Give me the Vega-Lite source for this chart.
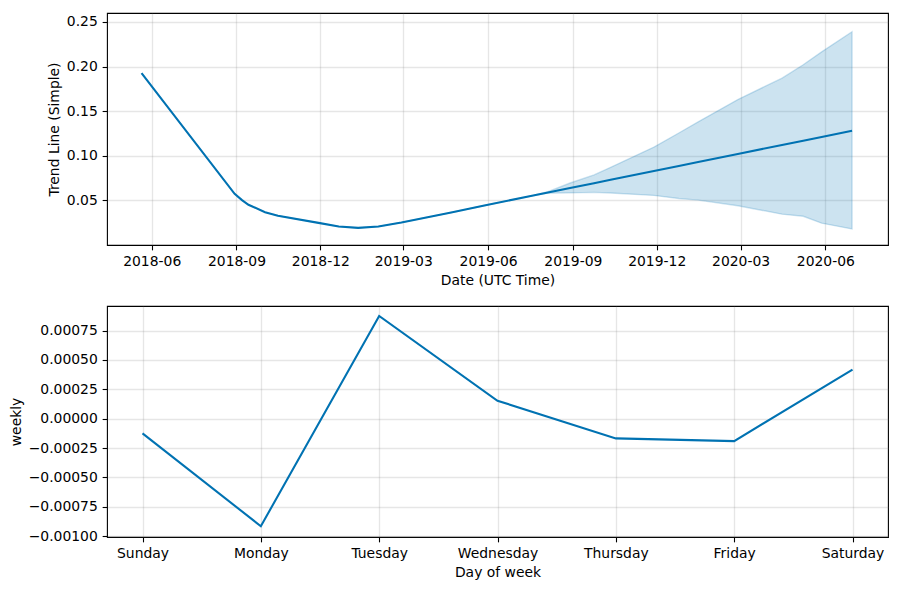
{
  "$schema": "https://vega.github.io/schema/vega-lite/v6.json",
  "padding": {"left": 8, "top": 12, "right": 8, "bottom": 5},
  "spacing": 17,
  "config": {
    "font": "DejaVu Sans",
    "view": {"stroke": "black", "strokeWidth": 1.1},
    "axis": {
      "domain": false, "grid": true, "gridColor": "#808080", "gridOpacity": 0.2, "gridWidth": 1.39,
      "tickColor": "black", "tickSize": 4.86, "tickWidth": 1.1,
      "labelFont": "DejaVu Sans", "labelFontSize": 13.9, "labelColor": "black", "labelPadding": 4.86,
      "labelOverlap": false, "labelFlush": false,
      "titleFont": "DejaVu Sans", "titleFontSize": 13.9, "titleFontWeight": "normal", "titleColor": "black", "titlePadding": 4.86
    }
  },
  "datasets": {
    "trend": [
      {"ds": "2018-05-21", "trend": 0.1926, "lower": 0.1926, "upper": 0.1926},
      {"ds": "2018-08-30", "trend": 0.0573, "lower": 0.0573, "upper": 0.0573},
      {"ds": "2018-09-07", "trend": 0.0503, "lower": 0.0503, "upper": 0.0503},
      {"ds": "2018-09-14", "trend": 0.0451, "lower": 0.0451, "upper": 0.0451},
      {"ds": "2018-10-02", "trend": 0.0368, "lower": 0.0368, "upper": 0.0368},
      {"ds": "2018-10-16", "trend": 0.0328, "lower": 0.0328, "upper": 0.0328},
      {"ds": "2018-11-29", "trend": 0.0248, "lower": 0.0248, "upper": 0.0248},
      {"ds": "2018-12-21", "trend": 0.0207, "lower": 0.0207, "upper": 0.0207},
      {"ds": "2019-01-11", "trend": 0.0192, "lower": 0.0192, "upper": 0.0192},
      {"ds": "2019-02-02", "trend": 0.0207, "lower": 0.0207, "upper": 0.0207},
      {"ds": "2019-02-27", "trend": 0.0252, "lower": 0.0252, "upper": 0.0252},
      {"ds": "2019-04-22", "trend": 0.0364, "lower": 0.0364, "upper": 0.0364},
      {"ds": "2019-05-28", "trend": 0.0443, "lower": 0.0443, "upper": 0.0443},
      {"ds": "2019-07-20", "trend": 0.0555, "lower": 0.0554, "upper": 0.0556},
      {"ds": "2019-08-05", "trend": 0.0588, "lower": 0.0581, "upper": 0.0598},
      {"ds": "2019-08-29", "trend": 0.0639, "lower": 0.0584, "upper": 0.0695},
      {"ds": "2019-09-24", "trend": 0.0693, "lower": 0.0590, "upper": 0.0785},
      {"ds": "2019-10-12", "trend": 0.0731, "lower": 0.0583, "upper": 0.0870},
      {"ds": "2019-11-28", "trend": 0.0829, "lower": 0.0556, "upper": 0.1098},
      {"ds": "2019-12-25", "trend": 0.0886, "lower": 0.0521, "upper": 0.1255},
      {"ds": "2020-01-15", "trend": 0.0930, "lower": 0.0503, "upper": 0.1380},
      {"ds": "2020-02-27", "trend": 0.1020, "lower": 0.0440, "upper": 0.1630},
      {"ds": "2020-04-15", "trend": 0.1121, "lower": 0.0346, "upper": 0.1870},
      {"ds": "2020-05-08", "trend": 0.1169, "lower": 0.0322, "upper": 0.2020},
      {"ds": "2020-05-28", "trend": 0.1211, "lower": 0.0245, "upper": 0.2165},
      {"ds": "2020-06-30", "trend": 0.1280, "lower": 0.0180, "upper": 0.2390}
    ],
    "weekly": [
      {"day": "Sunday", "weekly": -0.000125},
      {"day": "Monday", "weekly": -0.000916},
      {"day": "Tuesday", "weekly": 0.000875},
      {"day": "Wednesday", "weekly": 0.000153},
      {"day": "Thursday", "weekly": -0.000168},
      {"day": "Friday", "weekly": -0.000191},
      {"day": "Saturday", "weekly": 0.000418}
    ]
  },
  "vconcat": [
    {
      "width": 781, "height": 232,
      "data": {"name": "trend"},
      "layer": [
        {
          "mark": {"type": "area", "color": "#0072B2", "fillOpacity": 0.2, "stroke": "#0072B2", "strokeOpacity": 0.2, "strokeWidth": 1.39},
          "encoding": {
            "x": {"field": "ds", "type": "temporal", "title": "Date (UTC Time)",
              "scale": {"type": "utc", "domain": [{"year": 2018, "month": 4, "date": 13, "hours": 12, "utc": true}, {"year": 2020, "month": 8, "date": 8, "utc": true}]},
              "axis": {
                "values": [
                  {"year": 2018, "month": 6, "date": 1, "utc": true},
                  {"year": 2018, "month": 9, "date": 1, "utc": true},
                  {"year": 2018, "month": 12, "date": 1, "utc": true},
                  {"year": 2019, "month": 3, "date": 1, "utc": true},
                  {"year": 2019, "month": 6, "date": 1, "utc": true},
                  {"year": 2019, "month": 9, "date": 1, "utc": true},
                  {"year": 2019, "month": 12, "date": 1, "utc": true},
                  {"year": 2020, "month": 3, "date": 1, "utc": true},
                  {"year": 2020, "month": 6, "date": 1, "utc": true}
                ],
                "labelExpr": "utcFormat(datum.value, '%Y-%m')"
              }
            },
            "y": {"field": "lower", "type": "quantitative", "title": "Trend Line (Simple)",
              "scale": {"domain": [0.0072, 0.2503]},
              "axis": {"values": [0.05, 0.10, 0.15, 0.20, 0.25], "format": ".2f"}
            },
            "y2": {"field": "upper"}
          }
        },
        {
          "mark": {"type": "line", "color": "#0072B2", "strokeWidth": 2.08},
          "encoding": {
            "x": {"field": "ds", "type": "temporal"},
            "y": {"field": "trend", "type": "quantitative"}
          }
        }
      ]
    },
    {
      "width": 781, "height": 231,
      "data": {"name": "weekly"},
      "mark": {"type": "line", "color": "#0072B2", "strokeWidth": 2.08},
      "encoding": {
        "x": {"field": "day", "type": "ordinal", "title": "Day of week",
          "sort": ["Sunday", "Monday", "Tuesday", "Wednesday", "Thursday", "Friday", "Saturday"],
          "scale": {"type": "point", "padding": 0.3},
          "axis": {"labelAngle": 0, "grid": true}
        },
        "y": {"field": "weekly", "type": "quantitative", "title": "weekly",
          "scale": {"domain": [-0.001008, 0.00096]},
          "axis": {"values": [-0.001, -0.00075, -0.0005, -0.00025, 0, 0.00025, 0.0005, 0.00075], "format": ".5f"}
        }
      }
    }
  ]
}
